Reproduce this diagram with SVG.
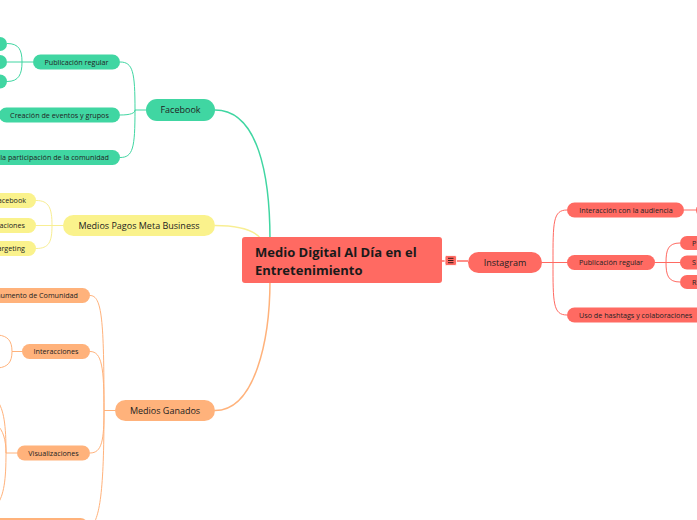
<svg xmlns="http://www.w3.org/2000/svg" width="697" height="520" viewBox="0 0 697 520">
<style>
text{font-family:"Open Sans","Noto Sans","DejaVu Sans",sans-serif;fill:#222}
.t1{font-size:9px}
.t2{font-size:7.2px}
.c{text-anchor:middle}
.e{text-anchor:end}
.lr{fill:none;stroke:#ff6a62}
.lg{fill:none;stroke:#40d6a2}
.ly{fill:none;stroke:#f8ee93}
.lo{fill:none;stroke:#ffb27b}
.w1{stroke-width:1.5}
.w2{stroke-width:1}
.nr{fill:#ff6a62}
.ng{fill:#40d6a2}
.ny{fill:#faf28c}
.no{fill:#ffb27b}
</style>
<rect width="697" height="520" fill="#ffffff"/>
<g id="connectors">
  <!-- main branches -->
  <path class="lg w1" d="M215,110 C258,110 270,175 270,240"/>
  <path class="ly w1" d="M215,225.5 C240,225.5 255,230 262,240"/>
  <path class="lo w1" d="M215,410.5 C255,410.5 270,340 270,280"/>
  <path class="lr w1" d="M442,261 H468"/>
  <!-- Instagram children -->
  <path class="lr w2" d="M542,262.5 H553 M553,262.5 C553,222 553,210 567,210 M553,262.5 H567 M553,262.5 C553,303 553,315 567,315"/>
  <path class="lr w2" d="M684,210 H697"/>
  <path class="lr w2" d="M655,262.5 H666 M666,262.5 C666,250 668,243 680,243 M666,262.5 H680 M666,262.5 C666,275 668,282 680,282"/>
  <!-- Facebook children -->
  <path class="lg w2" d="M146,110 H135 M135,110 C135,72 133,62 120,62 M135,110 C135,113 131,115 120,115 M135,110 C135,148 133,157.5 120,157.5"/>
  <path class="lg w2" d="M33,62 H22 M22,62 C22,50 19,43.5 7,43.5 M22,62 H7 M22,62 C22,74 19,81.5 7,81.5"/>
  <!-- Medios Pagos children -->
  <path class="ly w2" d="M63,225.5 H52 M52,225.5 C52,208 49,200.5 36,200.5 M52,225.5 H36 M52,225.5 C52,242 49,248.5 36,248.5"/>
  <!-- Medios Ganados children -->
  <path class="lo w2" d="M115,410.5 H104 M104,410.5 C104,320 102,295.5 90,295.5 M104,410.5 C104,368 102,351.5 90,351.5 M104,410.5 C104,440 102,453 90,453 M104,410.5 C104,490 100,520 90,528"/>
  <path class="lo w2" d="M22,351.5 H12 M12,351.5 C12,341 8,336 -2,335 M12,351.5 C12,362 8,367 -2,368"/>
  <path class="lo w2" d="M17,453 H6 M6,453 C6,425 4,410 -3,400 M6,453 C6,440 3,430 -3,425 M6,453 C6,480 4,495 -3,505"/>
</g>
<g id="central">
  <rect x="242" y="237" width="200" height="46" rx="3" class="nr"/>
  <text x="255" y="256.5" style="font-size:13px;font-weight:700;fill:#1a1a1a">Medio Digital Al Día en el</text>
  <text x="255" y="274.5" style="font-size:13px;font-weight:700;fill:#1a1a1a">Entretenimiento</text>
</g>
<g id="collapse-icon">
  <rect x="445" y="255.5" width="11.5" height="10" rx="1.5" class="nr" stroke="#ffffff" stroke-width="0.8"/>
  <path d="M448,258.3 H453.5 M448,260.5 H453.5 M448,262.7 H453.5" stroke="#3a1a1a" stroke-width="1"/>
</g>
<g id="instagram">
  <rect x="468" y="252" width="74" height="21" rx="10.5" class="nr"/>
  <text x="505" y="265.7" class="t1 c">Instagram</text>
</g>
<g id="ig-interaccion">
  <rect x="567" y="202.5" width="117" height="15" rx="7.5" class="nr"/>
  <text x="626" y="212.6" class="t2 c">Interacción con la audiencia</text>
</g>
<g id="ig-interaccion-child">
  <rect x="696" y="203" width="30" height="14" rx="7" class="nr"/>
</g>
<g id="ig-publicacion">
  <rect x="567" y="255" width="88" height="15" rx="7.5" class="nr"/>
  <text x="611" y="265.1" class="t2 c">Publicación regular</text>
</g>
<g id="ig-p">
  <rect x="680" y="236" width="40" height="14" rx="7" class="nr"/>
  <text x="692" y="245.6" class="t2">P</text>
</g>
<g id="ig-s">
  <rect x="680" y="255.5" width="40" height="14" rx="7" class="nr"/>
  <text x="692" y="265.1" class="t2">S</text>
</g>
<g id="ig-r">
  <rect x="680" y="275" width="40" height="14" rx="7" class="nr"/>
  <text x="692" y="284.6" class="t2">R</text>
</g>
<g id="ig-hashtags">
  <rect x="567" y="307.5" width="140" height="15" rx="7.5" class="nr"/>
  <text x="579" y="317.6" class="t2">Uso de hashtags y colaboraciones</text>
</g>
<g id="facebook">
  <rect x="146" y="99" width="69" height="22" rx="11" class="ng"/>
  <text x="180.5" y="113.2" class="t1 c">Facebook</text>
</g>
<g id="fb-publicacion">
  <rect x="33" y="54.5" width="87" height="15" rx="7.5" class="ng"/>
  <text x="76.5" y="64.6" class="t2 c">Publicación regular</text>
</g>
<g id="fb-pub-1"><rect x="-40" y="37" width="47" height="14" rx="7" class="ng"/></g>
<g id="fb-pub-2"><rect x="-40" y="55" width="47" height="14" rx="7" class="ng"/></g>
<g id="fb-pub-3"><rect x="-40" y="74.5" width="47" height="14" rx="7" class="ng"/></g>
<g id="fb-eventos">
  <rect x="-1" y="107.5" width="121" height="15" rx="7.5" class="ng"/>
  <text x="59.5" y="117.6" class="t2 c">Creación de eventos y grupos</text>
</g>
<g id="fb-participacion">
  <rect x="-40" y="150" width="160" height="15" rx="7.5" class="ng"/>
  <text x="109" y="160.1" class="t2 e">la participación de la comunidad</text>
</g>
<g id="medios-pagos">
  <rect x="63" y="215" width="152" height="21" rx="10.5" class="ny"/>
  <text x="139" y="228.7" class="t1 c">Medios Pagos Meta Business</text>
</g>
<g id="mp-1">
  <rect x="-40" y="193" width="76" height="15" rx="7.5" class="ny"/>
  <text x="26" y="203.1" class="t2 e">acebook</text>
</g>
<g id="mp-2">
  <rect x="-40" y="218" width="76" height="15" rx="7.5" class="ny"/>
  <text x="25" y="228.1" class="t2 e">aciones</text>
</g>
<g id="mp-3">
  <rect x="-40" y="241" width="76" height="15" rx="7.5" class="ny"/>
  <text x="25" y="251.1" class="t2 e">argeting</text>
</g>
<g id="medios-ganados">
  <rect x="115" y="400" width="100" height="21" rx="10.5" class="no"/>
  <text x="165" y="413.7" class="t1 c">Medios Ganados</text>
</g>
<g id="mg-aumento">
  <rect x="-40" y="288" width="130" height="15" rx="7.5" class="no"/>
  <text x="78" y="298.1" class="t2 e">aumento de Comunidad</text>
</g>
<g id="mg-interacciones">
  <rect x="22" y="344" width="68" height="15" rx="7.5" class="no"/>
  <text x="56" y="354.1" class="t2 c">Interacciones</text>
</g>
<g id="mg-visualizaciones">
  <rect x="17" y="445.5" width="73" height="15" rx="7.5" class="no"/>
  <text x="53.5" y="455.6" class="t2 c">Visualizaciones</text>
</g>
<g id="mg-bottom">
  <rect x="-40" y="518" width="128" height="15" rx="7.5" class="no"/>
</g>
</svg>
